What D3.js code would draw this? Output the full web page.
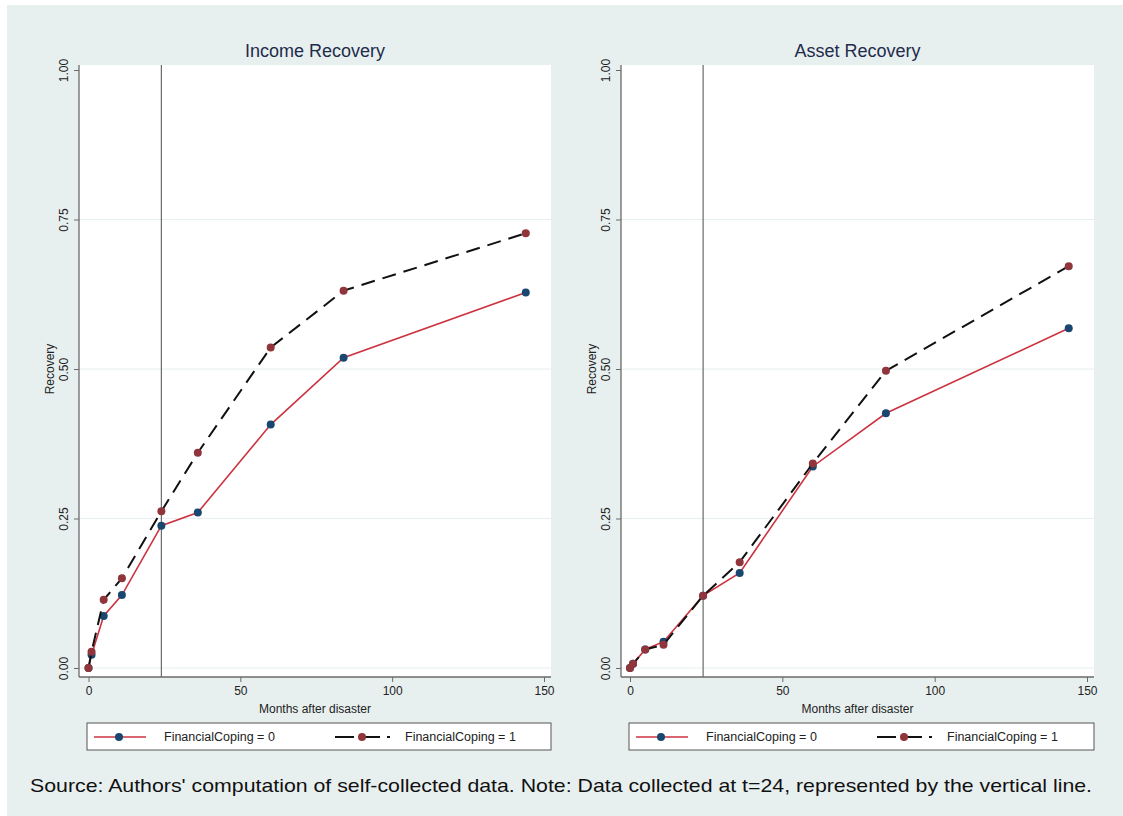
<!DOCTYPE html>
<html>
<head>
<meta charset="utf-8">
<script src="https://cdn.jsdelivr.net/npm/d3@7"></script>
<style>
body { margin: 0; background: #fff; }
text { font-family: "Liberation Sans", Arial, sans-serif; }
</style>
</head>
<body>
<svg width="1123" height="816"></svg>
<script>
// months after the disaster, shared by both panels
var months = [0, 1, 5, 11, 24, 36, 60, 84, 144];

var incomeFC0 = [0.000, 0.022, 0.087, 0.122, 0.238, 0.260, 0.407, 0.519, 0.628];
var incomeFC1 = [0.000, 0.027, 0.114, 0.150, 0.262, 0.360, 0.536, 0.631, 0.727];
var assetFC0 = [0.000, 0.007, 0.031, 0.044, 0.121, 0.159, 0.337, 0.426, 0.568];
var assetFC1 = [0.000, 0.007, 0.031, 0.039, 0.121, 0.177, 0.342, 0.497, 0.672];

var xTicks = [0, 50, 100, 150];
var yTicks = [0, 0.25, 0.5, 0.75, 1];
var panelTitles = ["Income Recovery", "Asset Recovery"];
var seriesLabels = ["FinancialCoping = 0", "FinancialCoping = 1"];
var dataLine = 24;

var svg = d3.select("svg");

svg.append("rect")
.attr("x", 7)
.attr("y", 5)
.attr("width", 1116)
.attr("height", 811)
.attr("fill", "#e8f0ef");

var panels = [
  {title: panelTitles[0], fc0: incomeFC0, fc1: incomeFC1, left: 79, x0: 88.5, x150: 544, right: 551},
  {title: panelTitles[1], fc0: assetFC0, fc1: assetFC1, left: 621, x0: 630, x150: 1087, right: 1094}
];

var plotTop = 65, plotBottom = 677;
var yScale = d3.scaleLinear().domain([0, 1]).range([668, 70]);

panels.forEach(function(p) {
  var xScale = d3.scaleLinear().domain([0, 150]).range([p.x0, p.x150]);
  var g = svg.append("g");

  // white plot region
  g.append("rect")
  .attr("x", p.left)
  .attr("y", plotTop)
  .attr("width", p.right - p.left)
  .attr("height", plotBottom - plotTop)
  .attr("fill", "#ffffff");

  g.selectAll(".grid")
  .data(yTicks.slice(0, 4))
  .enter()
  .append("line")
  .attr("x1", p.left)
  .attr("x2", p.right)
  .attr("y1", (d)=>yScale(d))
  .attr("y2", (d)=>yScale(d))
  .attr("stroke", "#e6eeef")
  .attr("stroke-width", 1);

  // vertical line at t=24
  g.append("line")
  .attr("x1", xScale(dataLine))
  .attr("x2", xScale(dataLine))
  .attr("y1", plotTop)
  .attr("y2", plotBottom)
  .attr("stroke", "#6a6a6a")
  .attr("stroke-width", 1.2);

  // title
  svg.append("text")
  .attr("x", (p.left + p.right) / 2)
  .attr("y", 57)
  .attr("text-anchor", "middle")
  .attr("font-size", 18)
  .attr("fill", "#1e2b4b")
  .text(p.title);

  // y axis
  var yAxis = g.append("g")
  .attr("transform", "translate(" + p.left + ",0)")
  .call(d3.axisLeft(yScale).tickValues(yTicks).tickSize(5).tickSizeOuter(0).tickFormat(d3.format(".2f")));
  yAxis.select(".domain").remove();
  yAxis.selectAll("line").attr("stroke", "#6a6a6a");
  yAxis.selectAll("text")
  .attr("transform", "rotate(-90)")
  .attr("x", 0)
  .attr("y", -11)
  .attr("dy", 0)
  .attr("text-anchor", "middle")
  .attr("font-size", 12)
  .attr("font-family", "Liberation Sans, Arial, sans-serif")
  .attr("fill", "#222");

  g.append("line")
  .attr("x1", p.left)
  .attr("x2", p.left)
  .attr("y1", plotTop)
  .attr("y2", plotBottom)
  .attr("stroke", "#6a6a6a")
  .attr("stroke-width", 1.3);

  // x axis
  var xAxis = g.append("g")
  .attr("transform", "translate(0," + plotBottom + ")")
  .call(d3.axisBottom(xScale).tickValues(xTicks).tickSize(5).tickSizeOuter(0));
  xAxis.select(".domain").remove();
  xAxis.selectAll("line").attr("stroke", "#6a6a6a");
  xAxis.selectAll("text")
  .attr("y", 9)
  .attr("dy", "0.71em")
  .attr("font-size", 12)
  .attr("font-family", "Liberation Sans, Arial, sans-serif")
  .attr("fill", "#222");

  g.append("line")
  .attr("x1", p.left)
  .attr("x2", p.right)
  .attr("y1", plotBottom)
  .attr("y2", plotBottom)
  .attr("stroke", "#6a6a6a")
  .attr("stroke-width", 1.3);

  g.append("text")
  .attr("x", (p.left + p.right) / 2)
  .attr("y", 713)
  .attr("text-anchor", "middle")
  .attr("font-size", 12)
  .attr("fill", "#222")
  .text("Months after disaster");

  g.append("text")
  .attr("transform", "translate(" + (p.left - 25) + "," + yScale(0.5) + ") rotate(-90)")
  .attr("text-anchor", "middle")
  .attr("font-size", 12)
  .attr("fill", "#222")
  .text("Recovery");

  var line = d3.line()
  .x((d, i)=>xScale(months[i]))
  .y((d)=>yScale(d));

  // FinancialCoping = 0
  g.append("path")
  .attr("d", line(p.fc0))
  .attr("fill", "none")
  .attr("stroke", "#cc3340")
  .attr("stroke-width", 1.6);

  g.selectAll(".m0")
  .data(p.fc0)
  .enter()
  .append("circle")
  .attr("cx", (d, i)=>xScale(months[i]))
  .attr("cy", (d)=>yScale(d))
  .attr("r", 4)
  .attr("fill", "#1a476f");

  // FinancialCoping = 1
  g.append("path")
  .attr("d", line(p.fc1))
  .attr("fill", "none")
  .attr("stroke", "#111")
  .attr("stroke-width", 2)
  .attr("stroke-dasharray", "14,8");

  g.selectAll(".m1")
  .data(p.fc1)
  .enter()
  .append("circle")
  .attr("cx", (d, i)=>xScale(months[i]))
  .attr("cy", (d)=>yScale(d))
  .attr("r", 4)
  .attr("fill", "#90353b");

  // legend
  var lg = svg.append("g").attr("transform", "translate(" + (p.left + 8) + ",723)");
  lg.append("rect")
  .attr("width", p.x150 - p.left - 1)
  .attr("height", 27)
  .attr("fill", "#fff")
  .attr("stroke", "#555")
  .attr("stroke-width", 1);

  lg.append("line")
  .attr("x1", 7).attr("x2", 59).attr("y1", 14).attr("y2", 14)
  .attr("stroke", "#cc3340").attr("stroke-width", 1.6);
  lg.append("circle").attr("cx", 32).attr("cy", 14).attr("r", 4).attr("fill", "#1a476f");
  lg.append("text")
  .attr("x", 77).attr("y", 18)
  .attr("font-size", 12.5)
  .attr("fill", "#222")
  .text(seriesLabels[0]);

  lg.append("line")
  .attr("x1", 248).attr("x2", 303).attr("y1", 14).attr("y2", 14)
  .attr("stroke", "#111").attr("stroke-width", 2)
  .attr("stroke-dasharray", "19,7");
  lg.append("circle").attr("cx", 275).attr("cy", 14).attr("r", 4).attr("fill", "#90353b");
  lg.append("text")
  .attr("x", 318).attr("y", 18)
  .attr("font-size", 12.5)
  .attr("fill", "#222")
  .text(seriesLabels[1]);
});

svg.append("text")
.attr("x", 30)
.attr("y", 792)
.attr("font-size", 19)
.attr("fill", "#111")
.attr("textLength", 1062)
.attr("lengthAdjust", "spacingAndGlyphs")
.text("Source: Authors' computation of self-collected data. Note: Data collected at t=24, represented by the vertical line.");
</script>
</body>
</html>
